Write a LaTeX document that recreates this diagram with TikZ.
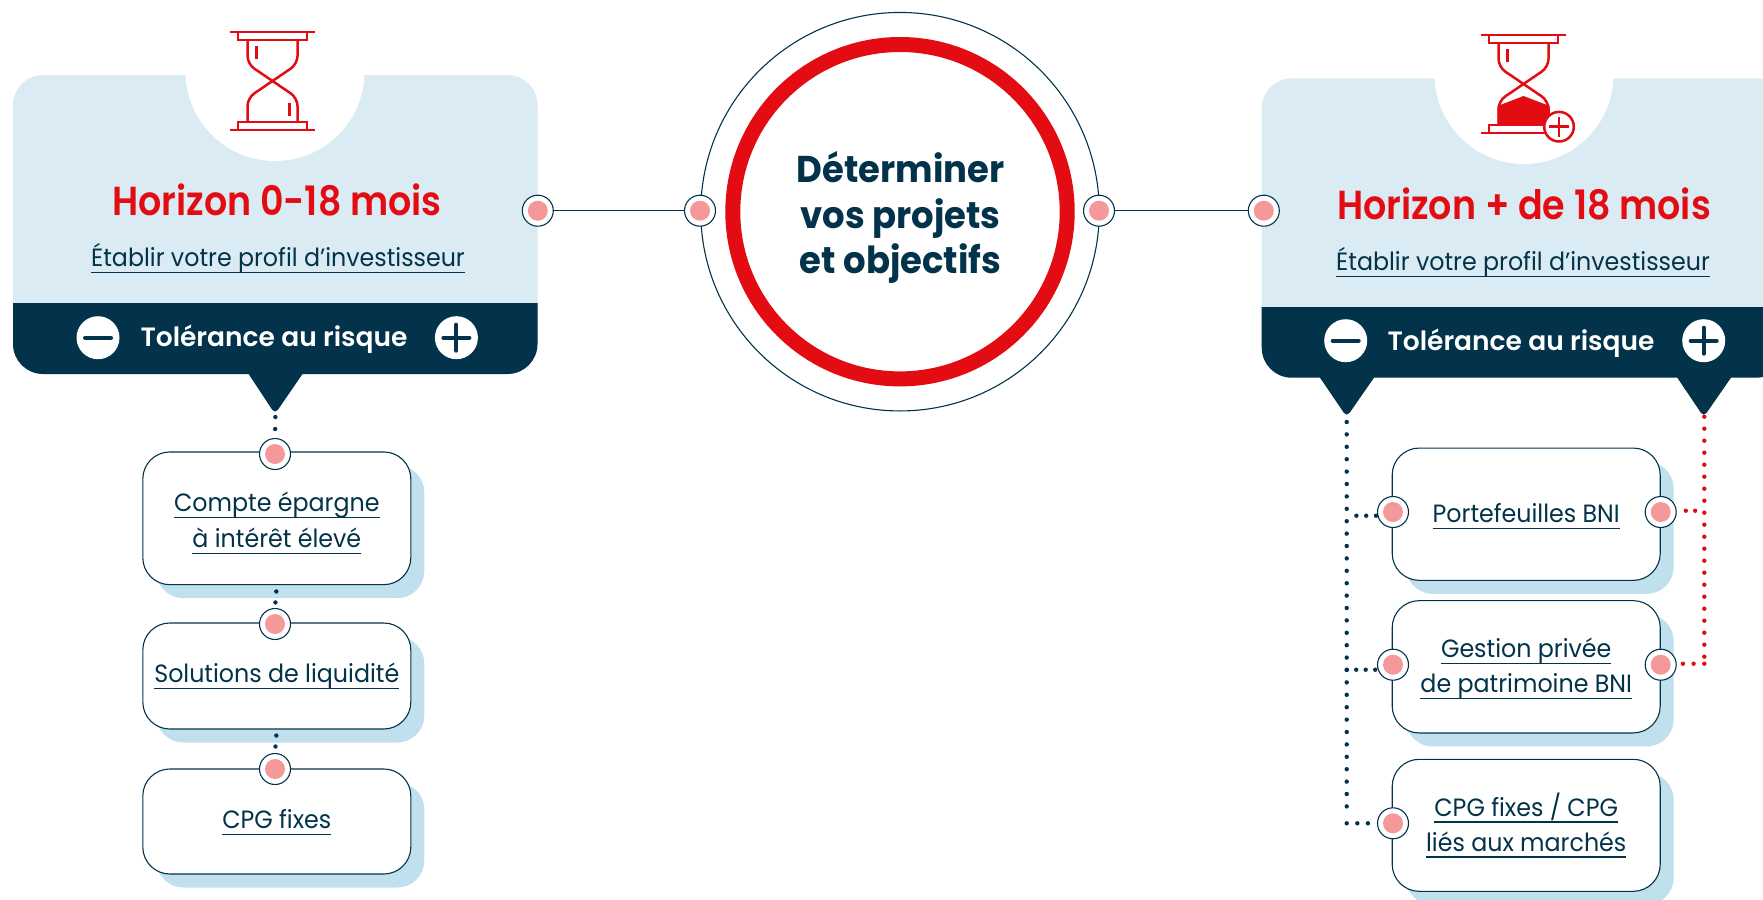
\documentclass[tikz,border=0pt]{standalone}
\usepackage{fontspec}
\setmainfont[FakeStretch=0.95]{Poppins}
\newfontfamily\headfont[FakeStretch=0.9]{Poppins SemiBold}
\newfontfamily\semifont{Poppins SemiBold}
\usepackage{xcolor}
\usetikzlibrary{shapes, positioning, shadows, calc}

\definecolor{navy}{HTML}{03334A}
\definecolor{paneltint}{HTML}{DAEBF3}
\definecolor{shadetint}{HTML}{BFE0EC}
\definecolor{alert}{HTML}{E40C13}
\definecolor{blush}{HTML}{F59899}

% Underlined link text, optional shift of the line
\newcommand{\lnk}[2][0pt]{\setbox0=\hbox{#2}\raisebox{#1}[\ht0][\dp0]{\hbox to \wd0{\copy0\hss\llap{\rule[-6.5pt]{\wd0}{1.2pt}}}}}

\begin{document}
\begin{tikzpicture}[
    x=1pt,
    y=-1pt,
    port/.style={
        circle,
        draw=navy,
        fill=white,
        line width=1.1pt,
        minimum size=31pt,
        inner sep=0pt,
        path picture={\fill[blush] (path picture bounding box.center) circle (10pt);}
    },
    card/.style={
        rectangle,
        draw=navy,
        fill=white,
        line width=1.1pt,
        rounded corners=27pt,
        minimum width=268pt,
        text=navy,
        align=center,
        inner sep=0pt,
        font=\fontsize{25}{35}\selectfont,
        drop shadow={shadow xshift=13.5pt, shadow yshift=-13.5pt, fill=shadetint, opacity=1}
    },
    title/.style={
        anchor=base,
        inner sep=0pt,
        text=alert,
        font=\fontsize{40.5}{44}\headfont
    },
    sublink/.style={
        anchor=base,
        inner sep=0pt,
        text=navy,
        font=\fontsize{25}{30}\selectfont
    },
    tolerance/.style={
        anchor=base,
        inner sep=0pt,
        text=white,
        font=\fontsize{26.5}{30}\semifont
    },
    signdisc/.style={
        circle,
        fill=white,
        minimum size=43pt,
        inner sep=0pt
    },
    less/.style={
        signdisc,
        path picture={\draw[navy, line width=4pt, line cap=round]
            ([xshift=-13pt]path picture bounding box.center) -- ([xshift=13pt]path picture bounding box.center);}
    },
    more/.style={
        signdisc,
        path picture={\draw[navy, line width=4pt, line cap=round]
            ([xshift=-13pt]path picture bounding box.center) -- ([xshift=13pt]path picture bounding box.center)
            ([yshift=-13pt]path picture bounding box.center) -- ([yshift=13pt]path picture bounding box.center);}
    },
    link/.style={
        draw=navy,
        line width=1.2pt
    },
    dotnavy/.style={
        navy,
        line width=4.4pt,
        line cap=round,
        dash pattern=on 0pt off 12.4pt
    },
    dotred/.style={
        alert,
        line width=4.4pt,
        line cap=round,
        dash pattern=on 0pt off 12pt
    },
    hourglass/.pic={
        \draw[alert, line width=2.5pt] (-42.5,-49) -- (42.5,-49) (-34.5,-49) rectangle (34.5,-41);
        \draw[alert, line width=2.5pt] (-42.5,49) -- (42.5,49) (-34.5,49) rectangle (34.5,41);
        \draw[alert, line width=2.5pt, rounded corners=8pt] (-25,-41) -- (-25,-17) -- (25,17) -- (25,41);
        \draw[alert, line width=2.5pt, rounded corners=8pt] (25,-41) -- (25,-17) -- (-25,17) -- (-25,41);
        \draw[alert, line width=2.5pt] (-16,-34.5) -- (-16,-22);
    }
]
\path[use as bounding box, clip] (0,0) rectangle (1763,899);

% Left panel
\fill[paneltint, rounded corners=30pt] (13,75) rectangle (537.5,374);
\fill[navy] (13,303) -- (537.5,303) [rounded corners=30pt] -- (537.5,374) -- (13,374) [sharp corners] -- (13,303) -- cycle;
\fill[navy] (248.6,372) -- (248.6,374) [rounded corners=5pt] -- (275,414) [sharp corners] -- (302.5,374) -- (302.5,372) -- cycle;
\coordinate (tipL) at (275.5,410);
\fill[white] (275,71.5) circle (89.5pt);
\pic (glassL) at (272.5,81) {hourglass};
\draw[alert, line width=2.5pt] (289.5,103) -- (289.5,116);
\node[title] (headL) at (277,215) {Horizon 0-18 mois};
\node[sublink] (subL) at (278,266.7) {\lnk{Établir votre profil d’investisseur}};
\node[tolerance] (tolL) at (274,346.7) {Tolérance au risque};
\node[less] (lessL) at (98,337.7) {};
\node[more] (moreL) at (456.4,337.7) {};

% Right panel
\fill[paneltint, rounded corners=30pt] (1261.7,78.3) rectangle (1786,377.7);
\fill[navy] (1261.7,307) -- (1786,307) [rounded corners=30pt] -- (1786,377.7) -- (1261.7,377.7) [sharp corners] -- (1261.7,307) -- cycle;
\fill[navy] (1320,375) -- (1320,377.7) [rounded corners=5pt] -- (1346.7,417) [sharp corners] -- (1374,377.7) -- (1374,375) -- cycle;
\fill[navy] (1677.3,375) -- (1677.3,377.7) [rounded corners=5pt] -- (1703.7,417) [sharp corners] -- (1731,377.7) -- (1731,375) -- cycle;
\coordinate (tipRa) at (1346.7,413);
\coordinate (tipRb) at (1704.3,413);
\fill[white] (1524,74.5) circle (89.5pt);
\pic (glassR) at (1523.5,84) {hourglass};
\fill[alert] (-26,41) ++(1523.5,84) -- ++(0,-19) -- ++(26,-10) -- ++(26,10) -- ++(0,19) -- cycle;
\draw[alert, line width=2.5pt, fill=white] (1559,126.7) circle (14.8pt);
\draw[alert, line width=2.5pt] (1549,126.7) -- (1569,126.7) (1559,116.7) -- (1559,136.7);
\node[title] (headR) at (1524,219) {Horizon + de 18 mois};
\node[sublink] (subR) at (1523,270.5) {\lnk{Établir votre profil d’investisseur}};
\node[tolerance] (tolR) at (1521,350) {Tolérance au risque};
\node[less] (lessR) at (1345.7,340.7) {};
\node[more] (moreR) at (1703.7,340.7) {};

% Centre
\node[circle, draw=navy, line width=1.1pt, minimum size=398.5pt, inner sep=0pt] (rim) at (900,211.7) {};
\node[circle, draw=alert, line width=15pt, fill=white, minimum size=334.4pt, inner sep=0pt] (ring) at (900,211.7) {};
\node[align=center, text=navy, inner sep=0pt, font=\fontsize{37.3}{45.3}\selectfont\bfseries] (goal) at (900.5,217.5) {Déterminer\\vos projets\\et objectifs};

% Left cards
\node[card, minimum height=132.7pt] (epargne) at (276.8,518.3) {\lnk[-1.5pt]{Compte épargne}\\\lnk[-2pt]{à intérêt élevé}};
\node[card, minimum height=106pt] (liquid) at (276.8,676) {\lnk{Solutions de liquidité}};
\node[card, minimum height=105pt] (fixes) at (276.8,821.5) {\lnk[2.5pt]{CPG fixes}};

% Right cards
\node[card, minimum height=132.3pt] (bni) at (1526.2,514.2) {\lnk[1pt]{Portefeuilles BNI}};
\node[card, minimum height=132.3pt] (prive) at (1526.2,666.8) {\lnk[-2pt]{Gestion privée}\\\lnk[-2pt]{de patrimoine BNI}};
\node[card, minimum height=132pt] (lies) at (1526.2,825.3) {\lnk[3.4pt]{CPG fixes / CPG}\\\lnk[3.4pt]{liés aux marchés}};

% Ports
\node[port] (pPanelL) at (537.8,210.7) {};
\node[port] (pRimL) at (700,210.7) {};
\node[port] (pRimR) at (1099,210.7) {};
\node[port] (pPanelR) at (1263.8,210.7) {};
\node[port] (pEpargne) at (275,454) {};
\node[port] (pLiquid) at (275,624) {};
\node[port] (pFixes) at (275,769) {};
\node[port] (pBniL) at (1393,512) {};
\node[port] (pBniR) at (1660.7,512) {};
\node[port] (pPriveL) at (1393,664.7) {};
\node[port] (pPriveR) at (1660.7,664.7) {};
\node[port] (pLies) at (1393,823.3) {};

% Paths
\draw[link] (pPanelL) -- (pRimL);
\draw[link] (pRimR) -- (pPanelR);
\draw[dotnavy, dash pattern=on 0pt off 12pt, dash phase=5pt] (tipL) -- (pEpargne.north);
\draw[dotnavy, dash pattern=on 0pt off 11pt, dash phase=4.7pt] (epargne.south) -- (pLiquid.north);
\draw[dotnavy, dash pattern=on 0pt off 11pt, dash phase=5pt] (liquid.south) -- (pFixes.north);
% Trunks stop just above the last row
\coordinate (trunkEndA) at (1346.7,812);
\coordinate (trunkEndB) at (1704.3,660);
\draw[dotnavy, dash phase=3.4pt] (tipRa) -- (trunkEndA);
\draw[dotred, dash phase=8.3pt] (tipRb) -- (trunkEndB);
\coordinate (rowA) at (1346.7,515.7);
\coordinate (rowB) at (1346.7,669.7);
\coordinate (rowC) at (1346.7,823.3);
\coordinate (rowD) at (1704.3,510.7);
\coordinate (rowE) at (1704.3,663.7);
\draw[dotnavy, dash pattern=on 0pt off 9.8pt, dash phase=0.1pt] (rowA) -- (rowA -| pBniL.west);
\draw[dotnavy, dash pattern=on 0pt off 9.5pt] (rowB) -- (rowB -| pPriveL.west);
\draw[dotnavy, dash pattern=on 0pt off 10.6pt] (rowC) -- (pLies.west);
\draw[dotred, dash pattern=on 0pt off 9.3pt, dash phase=0.1pt] (rowD) -- (rowD -| pBniR.east);
\draw[dotred, dash pattern=on 0pt off 10.7pt] (rowE) -- (rowE -| pPriveR.east);

\end{tikzpicture}
\end{document}
